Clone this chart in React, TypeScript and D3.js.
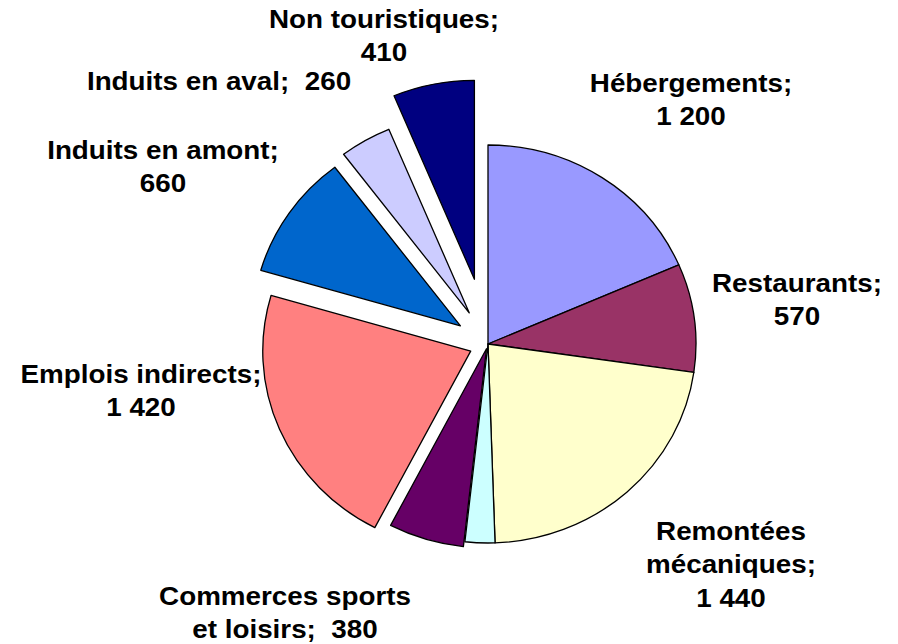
import React from 'react';
import * as d3 from 'd3';

// Emplois par secteur
const categories = [
  'Hébergements',
  'Restaurants',
  'Remontées mécaniques',
  'Autres',
  'Commerces sports et loisirs',
  'Emplois indirects',
  'Induits en amont',
  'Induits en aval',
  'Non touristiques',
];
const values = [1200, 570, 1440, 150, 380, 1420, 660, 260, 410];
const colors = ['#9999FF', '#993366', '#FFFFCC', '#CCFFFF', '#660066', '#FF8080', '#0066CC', '#CCCCFF', '#000080'];

// label text templates, "|" = line break, {v} = value ("" = no label)
const labelTemplates = [
  'Hébergements;|{v}',
  'Restaurants;|{v}',
  'Remontées|mécaniques;|{v}',
  '',
  'Commerces sports|et loisirs;  {v}',
  'Emplois indirects;|{v}',
  'Induits en amont;|{v}',
  'Induits en aval;  {v}',
  'Non touristiques;|{v}',
];

// layout
const W = 898;
const H = 644;
const cx = 488;
const cy = 344;
const radius = 199;
const stretchX = 1.045;
const explode = [0, 0, 0, 0, 5, 18, 32, 36, 66];
// label anchors: centre x, first baseline y
const labelPos: [number, number][] = [
  [691, 92],
  [797, 292],
  [731, 540],
  [0, 0],
  [285, 605],
  [141, 383],
  [163, 159],
  [219, 90],
  [384, 28],
];
const lineH = 33.5;

const fr = d3.formatLocale({ decimal: ',', thousands: ' ', grouping: [3], currency: ['', ' €'] });
const fmt = fr.format(',d');

export default function App() {
  const pie = d3.pie<number>().sort(null).value(d => d)(values);
  const arc = d3.arc<d3.PieArcDatum<number>>().innerRadius(0).outerRadius(radius);

  return (
    <svg
      width={W}
      height={H}
      style={{ position: 'fixed', left: 0, top: 0, background: '#fff' }}
      fontFamily="'Liberation Sans', Arial, sans-serif"
    >
      <g transform={`translate(${cx},${cy}) scale(${stretchX},1)`}>
        {pie.map((p, i) => {
          const mid = (p.startAngle + p.endAngle) / 2;
          const dx = Math.sin(mid) * explode[i];
          const dy = -Math.cos(mid) * explode[i];
          return (
            <path
              key={categories[i]}
              d={arc(p) || ''}
              transform={`translate(${dx},${dy})`}
              fill={colors[i]}
              stroke="#000"
              strokeWidth={1.3}
              strokeLinejoin="round"
              vectorEffect="non-scaling-stroke"
            />
          );
        })}
      </g>
      {labelTemplates.map((t, i) => {
        if (!t) return null;
        const lines = t.replace('{v}', fmt(values[i])).split('|');
        const [x, y] = labelPos[i];
        return (
          <text
            key={i}
            transform={`translate(${x},${y}) scale(1.07,1)`}
            textAnchor="middle"
            fontSize={26}
            fontWeight="bold"
            fill="#000"
            style={{ whiteSpace: 'pre' }}
          >
            {lines.map((l, j) => (
              <tspan key={j} x={0} y={j * lineH}>
                {l}
              </tspan>
            ))}
          </text>
        );
      })}
    </svg>
  );
}
